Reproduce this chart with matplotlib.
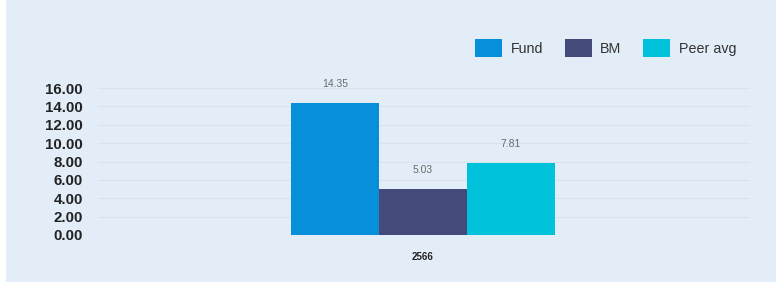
import matplotlib
matplotlib.use("Agg")
import matplotlib.pyplot as plt
from matplotlib.patches import Patch, Rectangle

categories = ["2566"]
series_names = ["Fund", "BM", "Peer avg"]
series_values = [[14.35], [5.03], [7.81]]
colors = ["#078fd9", "#444b7b", "#00c3db"]
yticks = [0, 2, 4, 6, 8, 10, 12, 14, 16]

plt.rcParams['font.family'] = ['Liberation Sans', 'DejaVu Sans']

bg = "#e2edf8"
fig = plt.figure(figsize=(7.76, 2.82), dpi=100)
fig.patch.set_facecolor(bg)
# white strip at left edge
fig.patches.append(Rectangle((0, 0), 6/776, 1, transform=fig.transFigure,
                             facecolor="white", edgecolor="none", zorder=-1))

ax = fig.add_axes([98/776, 1 - 235/282, 652/776, (235 - 88)/282])
ax.set_facecolor(bg)

offsets = [-1, 0, 1]
for name, vals, col, off in zip(series_names, series_values, colors, offsets):
    xs = [i * 8 + off for i in range(len(categories))]
    ax.bar(xs, vals, width=1.0, color=col, label=name, zorder=3)
    for x, v in zip(xs, vals):
        ax.annotate(f"{v:.2f}", xy=(x, v), xytext=(0, 10), textcoords="offset points",
                    ha="center", va="bottom", fontsize=7.5, color="#6b6b6b",
                    annotation_clip=False)

ax.set_xlim(-3.706, 3.729)
ax.set_ylim(0, 16)
ax.set_yticks(yticks)
ax.set_yticklabels([f"{t:.2f}" for t in yticks], fontsize=10.8, fontweight="bold", color="#222222")
ax.set_xticks([i * 8 for i in range(len(categories))])
ax.set_xticklabels(categories, fontsize=7, fontweight="bold", color="#222222")
ax.tick_params(axis="both", length=0)
ax.tick_params(axis="y", pad=11)
ax.tick_params(axis="x", pad=12)
ax.grid(axis="y", color="#d7e3ef", linewidth=0.8, zorder=0)
for s in ax.spines.values():
    s.set_visible(False)

handles = [Patch(facecolor=c, edgecolor="none") for c in colors]
fig.legend(handles, series_names, loc="center left",
           bbox_to_anchor=(462/776, 1 - 48/282), ncol=3, frameon=False,
           fontsize=10.3, handlelength=1.9, handleheight=1.55,
           handletextpad=0.6, columnspacing=1.5, labelcolor="#333333")

fig.savefig("out.png", dpi=100, facecolor=bg)
